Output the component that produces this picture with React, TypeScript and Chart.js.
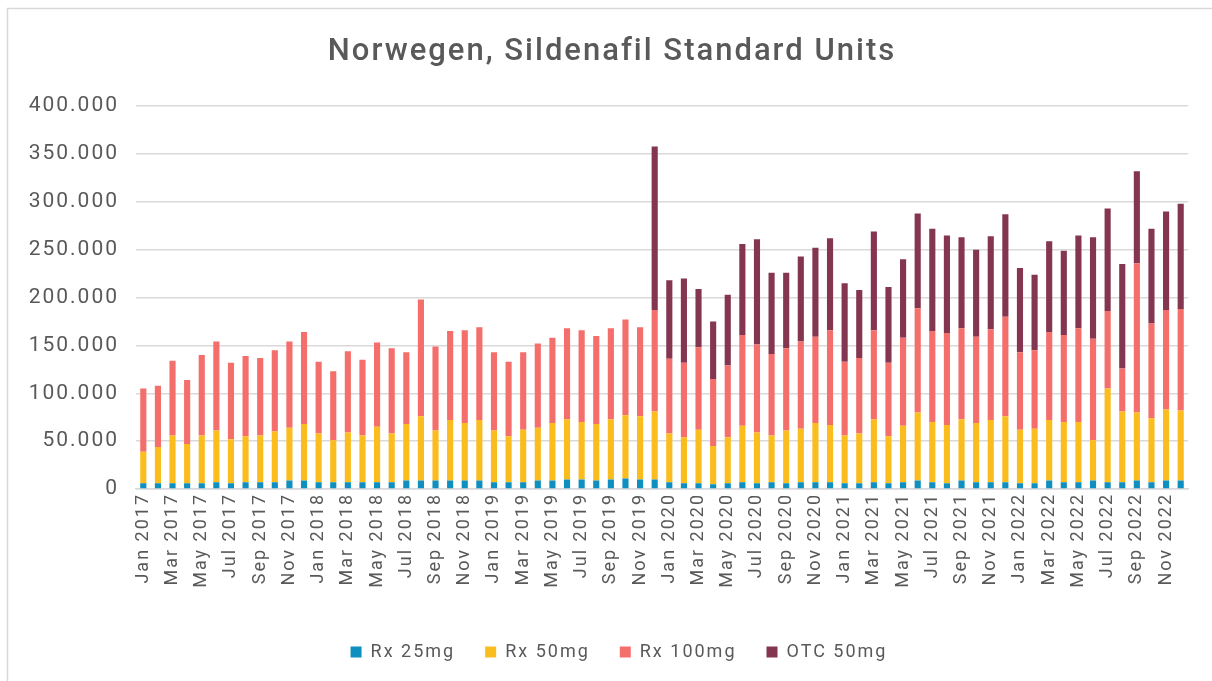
import React, { useEffect, useRef } from "react";
import { Chart, registerables } from "chart.js";

Chart.register(...registerables);

const MONTHS = ["Jan", "Feb", "Mar", "Apr", "May", "Jun", "Jul", "Aug", "Sep", "Oct", "Nov", "Dec"];
const YEARS = [2017, 2018, 2019, 2020, 2021, 2022];
const categories: string[] = YEARS.flatMap((y) => MONTHS.map((m) => `${m} ${y}`));

// values in thousands of standard units
const rx25 = [
  6, 6, 6, 6, 6, 7, 6, 7, 7, 7, 9, 9,
  7, 7, 7, 7, 7, 7, 9, 9, 9, 9, 9, 9,
  7, 7, 7, 9, 9, 10, 10, 9, 10, 11, 10, 10,
  7, 6, 6, 5, 6, 7, 6, 7, 6, 7, 7, 7,
  6, 6, 7, 6, 7, 9, 7, 6, 9, 7, 7, 7,
  6, 6, 9, 7, 7, 9, 7, 7, 9, 7, 9, 9,
];
const rx50 = [
  33, 38, 50, 41, 50, 54, 46, 48, 49, 53, 55, 59,
  51, 44, 52, 49, 58, 51, 59, 67, 52, 63, 60, 63,
  54, 48, 55, 55, 60, 63, 60, 59, 63, 66, 66, 71,
  51, 48, 56, 40, 48, 59, 53, 49, 55, 56, 62, 60,
  50, 52, 66, 49, 59, 71, 63, 61, 64, 62, 65, 69,
  56, 57, 63, 63, 63, 42, 98, 74, 71, 67, 74, 73,
];
const rx100 = [
  66, 64, 78, 67, 84, 93, 80, 84, 81, 85, 90, 96,
  75, 72, 85, 79, 88, 89, 75, 122, 88, 93, 97, 97,
  82, 78, 81, 88, 89, 95, 96, 92, 95, 100, 93, 106,
  78, 78, 86, 70, 75, 95, 92, 85, 86, 91, 90, 99,
  77, 79, 93, 77, 92, 109, 95, 96, 95, 90, 95, 104,
  81, 82, 92, 91, 98, 106, 81, 45, 156, 99, 104, 106,
];
const otc50 = [
  0, 0, 0, 0, 0, 0, 0, 0, 0, 0, 0, 0,
  0, 0, 0, 0, 0, 0, 0, 0, 0, 0, 0, 0,
  0, 0, 0, 0, 0, 0, 0, 0, 0, 0, 0, 171,
  82, 88, 61, 60, 74, 95, 110, 85, 79, 89, 93, 96,
  82, 71, 103, 79, 82, 99, 107, 102, 95, 91, 97, 107,
  88, 79, 95, 88, 97, 106, 107, 109, 96, 99, 103, 110,
];

const seriesNames = ["Rx 25mg", "Rx 50mg", "Rx 100mg", "OTC 50mg"];
const seriesColors = ["#0E8FBF", "#FBBD1E", "#F46E6C", "#843651"];
const yTicks = [0, 50000, 100000, 150000, 200000, 250000, 300000, 350000, 400000];

const FONT = "Roboto, 'Noto Sans', sans-serif";
const TEXT = "#595959";
const GRID = "#D9D9D9";

function fmt(v: number): string {
  const s = Math.round(v).toString();
  return s.replace(/\B(?=(\d{3})+(?!\d))/g, ".");
}

const spacingPlugin = {
  id: "letterSpacing",
  beforeUpdate(chart: any) {
    chart.ctx.letterSpacing = "2px";
  },
  beforeLayout(chart: any) {
    chart.ctx.letterSpacing = "2px";
  },
  afterLayout(chart: any) {
    // centre title and legend like the original (slightly right of the canvas middle)
    if (chart.titleBlock) {
      chart.titleBlock.left += 18;
      chart.titleBlock.right += 18;
    }
    if (chart.legend) {
      chart.legend.left += 25;
      chart.legend.right += 25;
    }
  },
  beforeDraw(chart: any) {
    chart.ctx.letterSpacing = "2px";
  },
};

const borderPlugin = {
  id: "outerBorder",
  beforeDraw(chart: any) {
    const ctx = chart.ctx;
    ctx.save();
    ctx.strokeStyle = GRID;
    ctx.lineWidth = 1.5;
    ctx.beginPath();
    ctx.moveTo(7.5, chart.height + 2);
    ctx.lineTo(7.5, 8.5);
    ctx.lineTo(chart.width + 2, 8.5);
    ctx.stroke();
    ctx.restore();
  },
};

export default function App() {
  const ref = useRef<HTMLCanvasElement>(null);

  useEffect(() => {
    document.body.style.margin = "0";
    document.body.style.overflow = "hidden";
    const datasets = [rx25, rx50, rx100, otc50].map((arr, i) => ({
      label: seriesNames[i],
      data: arr.map((v) => v * 1000),
      backgroundColor: seriesColors[i],
      borderWidth: 0,
      categoryPercentage: 1,
      barPercentage: 0.42,
    }));
    const chart = new Chart(ref.current as HTMLCanvasElement, {
      type: "bar",
      data: { labels: categories, datasets },
      plugins: [spacingPlugin, borderPlugin],
      options: {
        animation: false,
        responsive: false,
        maintainAspectRatio: false,
        layout: { padding: { left: 0, right: 24, top: 0, bottom: 10 } },
        plugins: {
          title: {
            display: true,
            text: "Norwegen, Sildenafil Standard Units",
            color: TEXT,
            font: { family: FONT, size: 31, weight: "500" },
            padding: { top: 34, bottom: 35 },
          },
          legend: {
            position: "bottom",
            labels: {
              color: TEXT,
              font: { family: FONT, size: 18 },
              boxWidth: 11,
              boxHeight: 11,
              padding: 30,
            },
          },
          tooltip: { enabled: false },
        },
        scales: {
          x: {
            stacked: true,
            grid: { display: false, drawTicks: false },
            border: { display: true, color: GRID, width: 1.5 },
            ticks: {
              autoSkip: false,
              maxRotation: 90,
              minRotation: 90,
              padding: 4,
              color: TEXT,
              font: { family: FONT, size: 18 },
              callback: (_v: any, i: number) => (i % 2 === 0 ? categories[i] : ""),
            },
            afterFit: (s: any) => {
              s.height = 124;
            },
          },
          y: {
            stacked: true,
            min: 0,
            max: 400000,
            grid: { color: GRID, lineWidth: 1.5, drawTicks: false },
            border: { display: false },
            afterBuildTicks: (s: any) => {
              s.ticks = yTicks.map((v) => ({ value: v }));
            },
            ticks: {
              padding: 17,
              color: TEXT,
              font: { family: FONT, size: 21 },
              callback: (v: any) => fmt(Number(v)),
            },
            afterFit: (s: any) => {
              s.width = 136;
            },
          },
        },
      },
    });
    return () => chart.destroy();
  }, []);

  return (
    <div style={{ width: 1212, height: 681, position: "relative", background: "#fff" }}>
      <canvas ref={ref} width={1212} height={681} style={{ display: "block" }} />
    </div>
  );
}
